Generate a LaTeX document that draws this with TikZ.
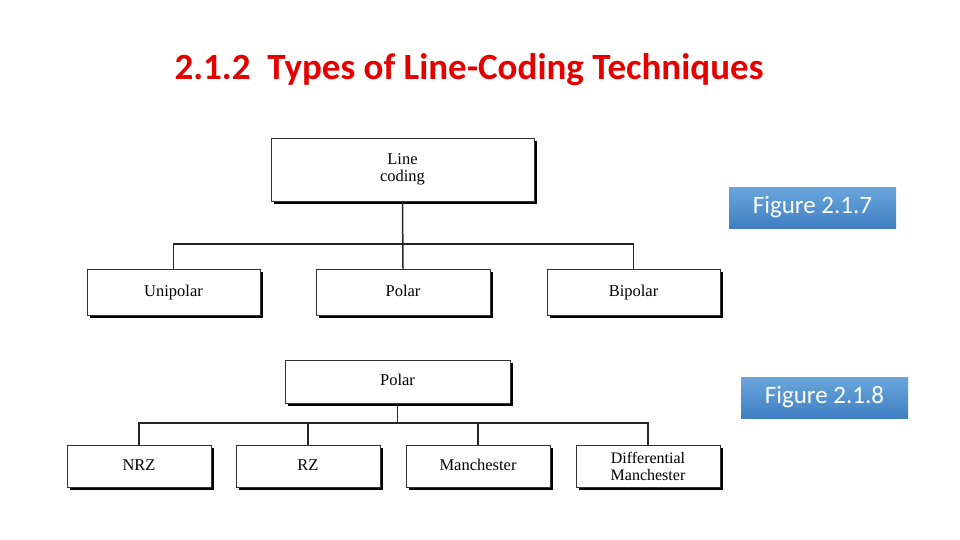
\documentclass[tikz,border=0pt]{standalone}
\usepackage{fontspec}
\setmainfont{Liberation Serif}
\newfontfamily\carlitofont{Carlito}
\usetikzlibrary{shadows}
\definecolor{figtop}{HTML}{6AA6DC}
\definecolor{figbot}{HTML}{3F7FC2}
\begin{document}
\begin{tikzpicture}[x=1pt,y=-1pt,
  bx/.style={draw=black!80,line width=0.8pt,fill=white,align=center,font=\fontsize{16.5}{17}\selectfont,
    text height=11pt,text depth=3pt,
    drop shadow={shadow xshift=3pt,shadow yshift=-3pt,fill=black,opacity=1}},
  ln/.style={line width=1.5pt,black!85},
  fig/.style={top color=figtop,bottom color=figbot,
     text=white,font=\carlitofont\fontsize{25}{27}\selectfont,inner sep=0pt}]
\useasboundingbox (0,0) rectangle (960,540);
\node (title) [text=red!90!black,font=\carlitofont\bfseries\fontsize{37}{40}\selectfont] at (469,70) {2.1.2\ \ Types of Line-Coding Techniques};
% figure 2.1.7
\node (lc) [bx,minimum width=263,minimum height=63,text height=,text depth=] at (402.5,169.5) {Line\\coding};
\node (uni) [bx,minimum width=173,minimum height=46] at (173.5,292) {Unipolar};
\node (pol) [bx,minimum width=174,minimum height=46] at (403,292) {Polar};
\node (bip) [bx,minimum width=173,minimum height=46] at (633.5,292) {Bipolar};
\coordinate (b1) at (403,244);
\draw[ln] (lc.south) -- (pol.north);
\draw[ln] (uni.north) |- (b1) -| (bip.north);
% figure 2.1.8
\node (p2) [bx,minimum width=225,minimum height=43] at (397.5,381.5) {Polar};
\node (nrz) [bx,minimum width=144,minimum height=42] at (139,466) {NRZ};
\node (rz) [bx,minimum width=144,minimum height=42] at (308,466) {RZ};
\node (man) [bx,minimum width=144,minimum height=42] at (478,466) {Manchester};
\node (dm) [bx,minimum width=144,minimum height=42,text height=,text depth=,font=\fontsize{16}{17}\selectfont] at (648,466) {Differential\\Manchester};
\coordinate (b2) at (p2.south |- 0,423);
\draw[ln] (p2.south) -- (b2);
\draw[ln] (nrz.north) |- (b2) -| (dm.north);
\draw[ln] (rz.north) -- (rz.north |- b2);
\draw[ln] (man.north) -- (man.north |- b2);
\node (f7) [fig,minimum width=167,minimum height=41] at (812.5,207.5) {Figure 2.1.7};
\node (f8) [fig,minimum width=167,minimum height=41] at (824.5,397.5) {Figure 2.1.8};
\end{tikzpicture}
\end{document}
